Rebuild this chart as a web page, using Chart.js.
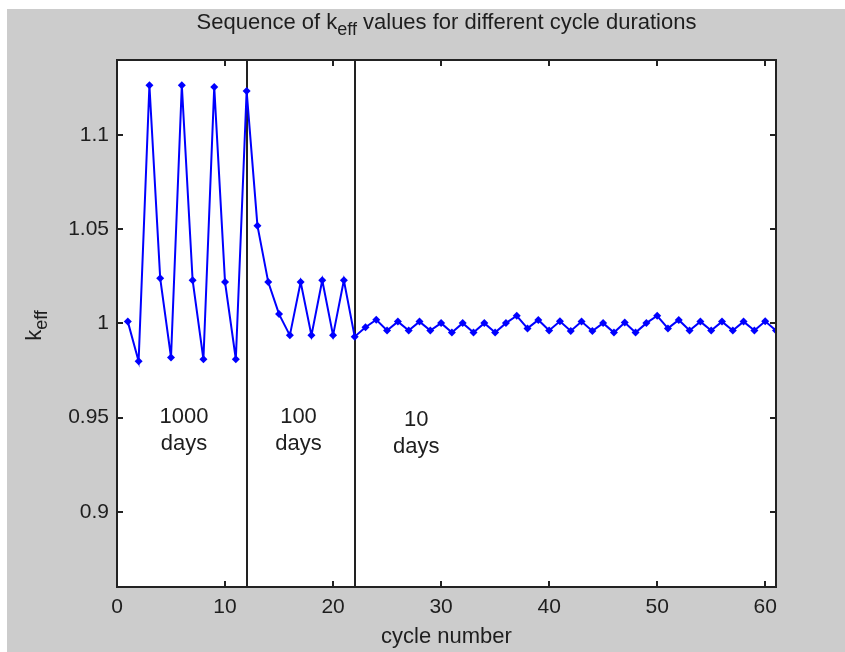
<!DOCTYPE html>
<html>
<head>
<meta charset="utf-8">
<script src="https://cdn.jsdelivr.net/npm/chart.js@4/dist/chart.umd.min.js"></script>
<style>
  html, body { margin: 0; padding: 0; background: #ffffff; }
  #c { display: block; }
</style>
</head>
<body>
<canvas id="c" width="845" height="652"></canvas>
<script>
// Cycle index and the k_eff value reached at the end of each cycle
const cycles = [
  1, 2, 3, 4, 5, 6, 7, 8, 9, 10,
  11, 12, 13, 14, 15, 16, 17, 18, 19, 20,
  21, 22, 23, 24, 25, 26, 27, 28, 29, 30,
  31, 32, 33, 34, 35, 36, 37, 38, 39, 40,
  41, 42, 43, 44, 45, 46, 47, 48, 49, 50,
  51, 52, 53, 54, 55, 56, 57, 58, 59, 60, 61
];
const keff = [
  1.001, 0.980, 1.1266, 1.024, 0.982, 1.1266, 1.023, 0.981, 1.1257, 1.022,
  0.981, 1.1235, 1.052, 1.022, 1.005, 0.9937, 1.022, 0.9937, 1.023, 0.9937,
  1.023, 0.993, 0.998, 1.002, 0.9963, 1.001, 0.9963, 1.001, 0.9963, 1.0002,
  0.9952, 1.0002, 0.9952, 1.0002, 0.9952, 1.0002, 1.0041, 0.9974, 1.0019, 0.9963,
  1.0012, 0.996, 1.001, 0.996, 1.0002, 0.9952, 1.0005, 0.9952, 1.0002, 1.0041,
  0.9974, 1.0019, 0.9963, 1.001, 0.9963, 1.001, 0.9963, 1.001, 0.9963, 1.0012, 0.9963
];

// Axis ticks
const xTicks = [0, 10, 20, 30, 40, 50, 60];
const xTickLabels = ["0", "10", "20", "30", "40", "50", "60"];
const yTicks = [0.9, 0.95, 1, 1.05, 1.1];
const yTickLabels = ["0.9", "0.95", "1", "1.05", "1.1"];

// Cycle numbers where the cycle duration changes, and the duration of each block
const boundaries = [12, 22];
const durationValues = ["1000", "100", "10"];
const durationUnit = "days";
const durationX = [6.2, 16.8, 27.7];
const durationY = [0.9514, 0.9514, 0.950];

const FONT = "'Liberation Sans', Arial, Helvetica, sans-serif";
const TEXT = '#1e1e1e';
const FRAME = '#222222';

// Draws text with a subscript part, starting at x
function drawSub(ctx, main, sub, x, y, size, subSize, subDrop) {
  ctx.font = size + 'px ' + FONT;
  ctx.fillText(main, x, y);
  const w = ctx.measureText(main).width;
  ctx.font = subSize + 'px ' + FONT;
  ctx.fillText(sub, x + w, y + subDrop);
  return w + ctx.measureText(sub).width;
}

const figurePlugin = {
  id: 'figure',
  beforeDraw(chart) {
    const ctx = chart.ctx;
    ctx.save();
    ctx.fillStyle = '#ffffff';
    ctx.fillRect(0, 0, chart.width, chart.height);
    ctx.fillStyle = '#cccccc';
    ctx.fillRect(7, 9, chart.width - 7, chart.height - 9);
    const a = chart.chartArea;
    ctx.fillStyle = '#ffffff';
    ctx.fillRect(a.left, a.top, a.right - a.left, a.bottom - a.top);
    ctx.restore();
  },
  beforeDatasetsDraw(chart) {
    const ctx = chart.ctx;
    const a = chart.chartArea;
    const xs = chart.scales.x;
    ctx.save();
    ctx.strokeStyle = FRAME;
    ctx.lineWidth = 2;
    boundaries.forEach(b => {
      const px = Math.round(xs.getPixelForValue(b));
      ctx.beginPath();
      ctx.moveTo(px, a.top);
      ctx.lineTo(px, a.bottom);
      ctx.stroke();
    });
    ctx.restore();
  },
  afterDraw(chart) {
    const ctx = chart.ctx;
    const a = chart.chartArea;
    const xs = chart.scales.x;
    const ys = chart.scales.y;
    ctx.save();

    // axes box
    ctx.strokeStyle = FRAME;
    ctx.lineWidth = 2;
    ctx.strokeRect(a.left, a.top, a.right - a.left, a.bottom - a.top);

    // inward tick marks on all four sides
    const tl = 6;
    ctx.beginPath();
    xTicks.forEach(v => {
      const px = Math.round(xs.getPixelForValue(v));
      ctx.moveTo(px, a.bottom); ctx.lineTo(px, a.bottom - tl);
      ctx.moveTo(px, a.top); ctx.lineTo(px, a.top + tl);
    });
    yTicks.forEach(v => {
      const py = Math.round(ys.getPixelForValue(v));
      ctx.moveTo(a.left, py); ctx.lineTo(a.left + tl, py);
      ctx.moveTo(a.right, py); ctx.lineTo(a.right - tl, py);
    });
    ctx.stroke();

    ctx.fillStyle = TEXT;
    ctx.textBaseline = 'alphabetic';
    ctx.textAlign = 'left';

    // title
    const cx = (a.left + a.right) / 2;
    ctx.font = '22px ' + FONT;
    const t1 = 'Sequence of k';
    const t2 = ' values for different cycle durations';
    const w1 = ctx.measureText(t1).width;
    const w3 = ctx.measureText(t2).width;
    ctx.font = '18px ' + FONT;
    const w2 = ctx.measureText('eff').width;
    let tx = cx - (w1 + w2 + w3) / 2;
    const ty = 29;
    ctx.font = '22px ' + FONT;
    ctx.fillText(t1, tx, ty);
    ctx.font = '18px ' + FONT;
    ctx.fillText('eff', tx + w1, ty + 6);
    ctx.font = '22px ' + FONT;
    ctx.fillText(t2, tx + w1 + w2, ty);

    // x-axis title
    ctx.textAlign = 'center';
    ctx.font = '22px ' + FONT;
    ctx.fillText('cycle number', cx, 643);

    // y-axis title, rotated
    ctx.save();
    ctx.translate(41, (a.top + a.bottom) / 2 + 2);
    ctx.rotate(-Math.PI / 2);
    ctx.textAlign = 'left';
    ctx.font = '22px ' + FONT;
    const kw = ctx.measureText('k').width;
    ctx.font = '18px ' + FONT;
    const ew = ctx.measureText('eff').width;
    drawSub(ctx, 'k', 'eff', -(kw + ew) / 2, 0, 22, 18, 6);
    ctx.restore();

    // cycle-duration annotations
    ctx.textAlign = 'center';
    ctx.font = '22px ' + FONT;
    durationValues.forEach((val, i) => {
      const px = xs.getPixelForValue(durationX[i]);
      const py = ys.getPixelForValue(durationY[i]);
      ctx.fillText(val, px, py + 8);
      ctx.fillText(durationUnit, px, py + 35);
    });

    ctx.restore();
  }
};

new Chart(document.getElementById('c'), {
  type: 'line',
  data: {
    datasets: [{
      data: cycles.map((c, i) => ({ x: c, y: keff[i] })),
      borderColor: '#0000ff',
      backgroundColor: '#0000ff',
      borderWidth: 2,
      pointStyle: 'rectRot',
      pointRadius: 4,
      pointBorderWidth: 0,
      pointBackgroundColor: '#0000ff',
      tension: 0,
      fill: false
    }]
  },
  options: {
    responsive: false,
    animation: false,
    devicePixelRatio: 1,
    layout: { padding: { left: 0, top: 60, right: 69, bottom: 0 } },
    plugins: {
      legend: { display: false },
      title: { display: false },
      tooltip: { enabled: false }
    },
    scales: {
      x: {
        type: 'linear',
        min: 0,
        max: 61,
        grid: { display: false, drawTicks: false },
        border: { display: false },
        afterFit(scale) { scale.height = 65; },
        afterBuildTicks(scale) { scale.ticks = xTicks.map(v => ({ value: v })); },
        ticks: {
          padding: 8,
          color: TEXT,
          font: { family: FONT, size: 21 },
          maxRotation: 0,
          autoSkip: false,
          callback: (v) => xTickLabels[xTicks.indexOf(v)]
        }
      },
      y: {
        type: 'linear',
        min: 0.86,
        max: 1.14,
        grid: { display: false, drawTicks: false },
        border: { display: false },
        afterFit(scale) { scale.width = 117; },
        afterBuildTicks(scale) { scale.ticks = yTicks.map(v => ({ value: v })); },
        ticks: {
          padding: 8,
          color: TEXT,
          font: { family: FONT, size: 21 },
          autoSkip: false,
          callback: (v) => yTickLabels[yTicks.indexOf(v)]
        }
      }
    }
  },
  plugins: [figurePlugin]
});
</script>
</body>
</html>
